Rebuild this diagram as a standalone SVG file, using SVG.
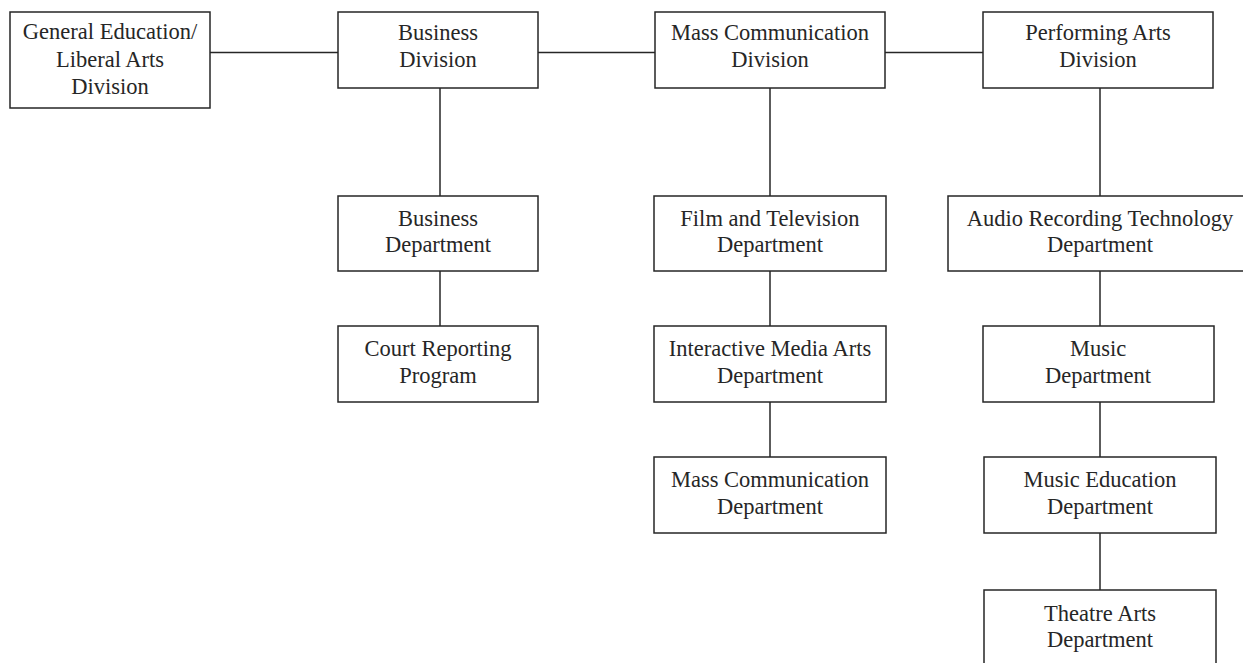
<svg xmlns="http://www.w3.org/2000/svg" width="1243" height="663" viewBox="0 0 1243 663">
<style>
.box{fill:#fff;stroke:#262626;stroke-width:1.5}
.lbl{font-family:"Liberation Serif","Times New Roman",serif;font-size:22.5px;fill:#262626;text-anchor:middle}
.conn line{stroke:#262626;stroke-width:1.5}
</style>
<rect width="1243" height="663" fill="#fff"/>
<g class="conn" id="connectors">
<line x1="210" y1="52.5" x2="338" y2="52.5"/>
<line x1="538" y1="52.5" x2="655" y2="52.5"/>
<line x1="885" y1="52.5" x2="983" y2="52.5"/>
<line x1="440" y1="88" x2="440" y2="196"/>
<line x1="440" y1="271" x2="440" y2="326"/>
<line x1="770" y1="88" x2="770" y2="196"/>
<line x1="770" y1="271" x2="770" y2="326"/>
<line x1="770" y1="402" x2="770" y2="457"/>
<line x1="1100" y1="88" x2="1100" y2="196"/>
<line x1="1100" y1="271" x2="1100" y2="326"/>
<line x1="1100" y1="402" x2="1100" y2="457"/>
<line x1="1100" y1="533" x2="1100" y2="590"/>
</g>
<g id="gen-ed">
<rect class="box" x="10" y="12" width="200" height="96"/>
<text class="lbl" x="110" y="39">General Education/</text>
<text class="lbl" x="110" y="66.5">Liberal Arts</text>
<text class="lbl" x="110" y="94">Division</text>
</g>
<g id="business-div">
<rect class="box" x="338" y="12" width="200" height="76"/>
<text class="lbl" x="438" y="40">Business</text>
<text class="lbl" x="438" y="67">Division</text>
</g>
<g id="masscomm-div">
<rect class="box" x="655" y="12" width="230" height="76"/>
<text class="lbl" x="770" y="40">Mass Communication</text>
<text class="lbl" x="770" y="67">Division</text>
</g>
<g id="perf-div">
<rect class="box" x="983" y="12" width="230" height="76"/>
<text class="lbl" x="1098" y="40">Performing Arts</text>
<text class="lbl" x="1098" y="67">Division</text>
</g>
<g id="business-dept">
<rect class="box" x="338" y="196" width="200" height="75"/>
<text class="lbl" x="438" y="225.5">Business</text>
<text class="lbl" x="438" y="252">Department</text>
</g>
<g id="court">
<rect class="box" x="338" y="326" width="200" height="76"/>
<text class="lbl" x="438" y="356">Court Reporting</text>
<text class="lbl" x="438" y="383">Program</text>
</g>
<g id="film">
<rect class="box" x="654" y="196" width="232" height="75"/>
<text class="lbl" x="770" y="225.5">Film and Television</text>
<text class="lbl" x="770" y="252">Department</text>
</g>
<g id="ima">
<rect class="box" x="654" y="326" width="232" height="76"/>
<text class="lbl" x="770" y="356">Interactive Media Arts</text>
<text class="lbl" x="770" y="383">Department</text>
</g>
<g id="masscomm-dept">
<rect class="box" x="654" y="457" width="232" height="76"/>
<text class="lbl" x="770" y="487">Mass Communication</text>
<text class="lbl" x="770" y="514">Department</text>
</g>
<g id="audio">
<rect class="box" x="948" y="196" width="304" height="75"/>
<text class="lbl" x="1100" y="225.5">Audio Recording Technology</text>
<text class="lbl" x="1100" y="252">Department</text>
</g>
<g id="music">
<rect class="box" x="983" y="326" width="231" height="76"/>
<text class="lbl" x="1098" y="356">Music</text>
<text class="lbl" x="1098" y="383">Department</text>
</g>
<g id="music-ed">
<rect class="box" x="984" y="457" width="232" height="76"/>
<text class="lbl" x="1100" y="487">Music Education</text>
<text class="lbl" x="1100" y="514">Department</text>
</g>
<g id="theatre">
<rect class="box" x="984" y="590" width="232" height="80"/>
<text class="lbl" x="1100" y="621">Theatre Arts</text>
<text class="lbl" x="1100" y="647">Department</text>
</g>
</svg>
